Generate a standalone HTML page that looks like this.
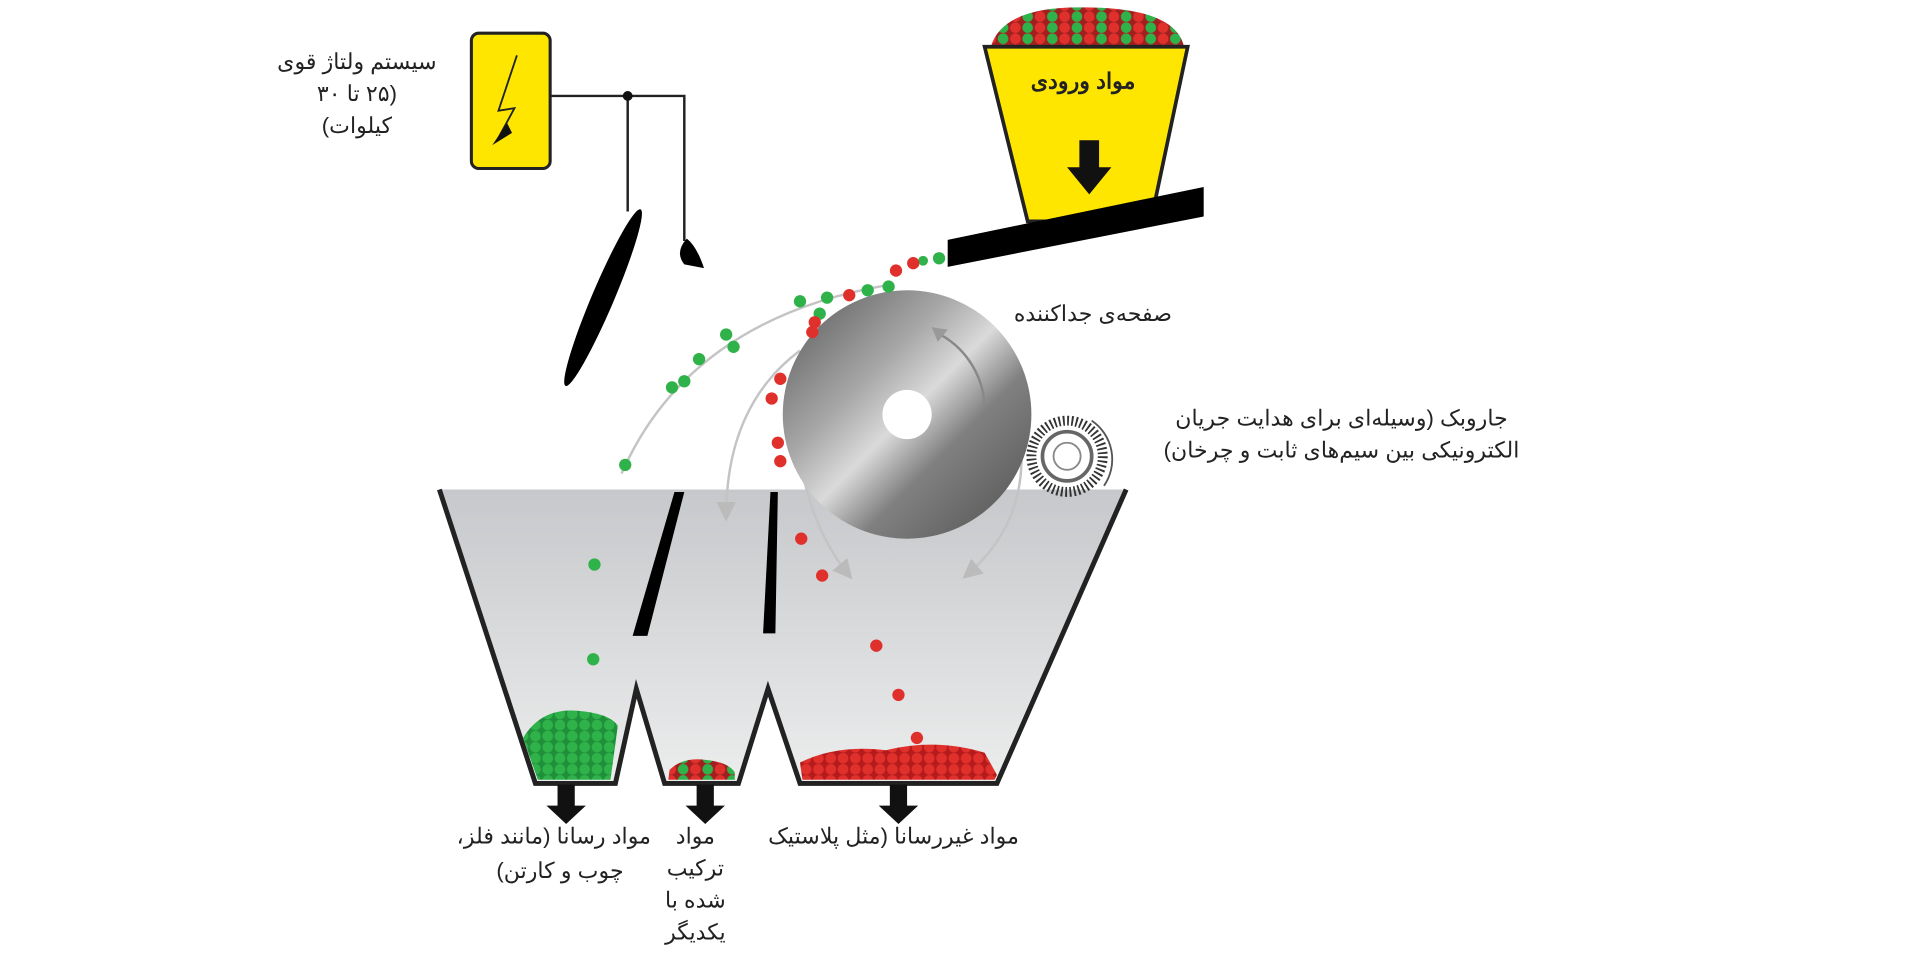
<!DOCTYPE html>
<html><head><meta charset="utf-8"><style>
html,body{margin:0;padding:0;background:#fff;width:1920px;height:963px;overflow:hidden}
svg{display:block}
text{font-family:"Liberation Sans","Noto Sans CJK SC",sans-serif;fill:#222;font-size:18px;direction:rtl;unicode-bidi:embed}
</style></head><body>
<svg width="1920" height="963" viewBox="0 0 1560 783" preserveAspectRatio="none" xmlns="http://www.w3.org/2000/svg">
<defs>
<linearGradient id="bin" x1="0" y1="0" x2="0" y2="1"><stop offset="0" stop-color="#c6c8cb"/><stop offset="1" stop-color="#eceded"/></linearGradient>
<linearGradient id="disc" x1="0" y1="0" x2="1" y2="1"><stop offset="0" stop-color="#555"/><stop offset="0.35" stop-color="#a8a8a8"/><stop offset="0.5" stop-color="#dadada"/><stop offset="0.65" stop-color="#808080"/><stop offset="1" stop-color="#505050"/></linearGradient>
<pattern id="green" width="10" height="9" patternUnits="userSpaceOnUse"><rect width="10" height="9" fill="#1f8f3a"/><circle cx="5" cy="4.5" r="4.3" fill="#2fb24a"/></pattern>
<pattern id="red" width="10" height="9" patternUnits="userSpaceOnUse"><rect width="10" height="9" fill="#b51b1b"/><circle cx="5" cy="4.5" r="4.3" fill="#e0302c"/></pattern>
<pattern id="mix" width="20" height="9" patternUnits="userSpaceOnUse"><rect width="20" height="9" fill="#a02020"/><circle cx="5" cy="4.5" r="4.3" fill="#e0302c"/><circle cx="15" cy="4.5" r="4.3" fill="#2fb24a"/></pattern>
<marker id="ah" markerWidth="8" markerHeight="8" refX="6" refY="4" orient="auto"><path d="M0,0 L8,4 L0,8 Z" fill="#bbb"/></marker>
</defs>

<!-- bin -->
<polygon points="357,398 915,398 810,637 650,637 624,560 600,637 540,637 517,560 500,637 435,637" fill="url(#bin)"/>
<polyline points="357,398 435,637 500,637 517,560 540,637 600,637 624,560 650,637 810,637 915,398" fill="none" stroke="#222" stroke-width="4"/>
<polygon points="548,400 556,400 526,517 514,517" fill="#000"/>
<polygon points="626,400 632,400 630,515 620,515" fill="#000"/>
<!-- piles -->
<path d="M425,600 Q440,575 470,578 Q495,580 502,590 L496,634 L437,634 Z" fill="url(#green)"/>
<path d="M544,626 Q555,615 575,618 Q592,620 597,628 L597,634 L543,634 Z" fill="url(#mix)"/>
<path d="M650,620 Q680,605 720,610 Q760,600 800,612 L810,630 L808,634 L652,634 Z" fill="url(#red)"/>

<!-- output arrows -->
<g fill="#111">
<polygon points="453,638 467,638 467,655 476,655 460,670 444,655 453,655"/>
<polygon points="566,638 580,638 580,655 589,655 573,670 557,655 566,655"/>
<polygon points="723,638 737,638 737,655 746,655 730,670 714,655 723,655"/>
</g>

<!-- flight curves -->
<g fill="none" stroke="#c4c4c4" stroke-width="2">
<path d="M720,232 Q560,260 505,385"/>
<path d="M650,285 Q590,330 590,420" marker-end="url(#ah)"/>
<path d="M645,330 Q650,420 690,468" marker-end="url(#ah)"/>
<path d="M830,372 Q830,430 785,468" marker-end="url(#ah)"/>
</g>

<!-- disc -->
<circle cx="737" cy="337" r="101" fill="url(#disc)"/>
<circle cx="737" cy="337" r="20" fill="#fff"/>
<path d="M760,270 A70,70 0 0 1 800,330" fill="none" stroke="#888" stroke-width="2"/>
<polygon points="757,266 770,268 762,278" fill="#999"/>

<!-- brush -->
<circle cx="867" cy="371" r="29" fill="none" stroke="#333" stroke-width="8" stroke-dasharray="1.5 2"/>
<circle cx="867" cy="371" r="20" fill="#fff" stroke="#666" stroke-width="3"/>
<circle cx="867" cy="371" r="11" fill="#fff" stroke="#888" stroke-width="1.5"/>
<path d="M887,342 A38,38 0 0 1 897,395" fill="none" stroke="#555" stroke-width="1.5"/>

<!-- hopper -->
<path d="M805,38 Q815,5 880,6 Q955,6 962,38 Z" fill="url(#mix)"/>
<polygon points="800,38 965,38 935,180 835,180" fill="#ffe600" stroke="#222" stroke-width="3"/>
<text x="880" y="72" text-anchor="middle" font-weight="bold" font-size="17">مواد ورودی</text>
<polygon points="877,114 893,114 893,136 903,136 885,158 867,136 877,136" fill="#111"/>
<!-- chute -->
<polygon points="770,195 978,152 978,176 770,217" fill="#000"/>

<!-- falling balls -->
<g fill="#2fb24a">
<circle cx="763" cy="210" r="5"/><circle cx="750" cy="212" r="4"/><circle cx="722" cy="233" r="5"/><circle cx="705" cy="236" r="5"/><circle cx="672" cy="242" r="5"/><circle cx="650" cy="245" r="5"/><circle cx="666" cy="255" r="5"/><circle cx="590" cy="272" r="5"/><circle cx="596" cy="282" r="5"/><circle cx="568" cy="292" r="5"/><circle cx="556" cy="310" r="5"/><circle cx="546" cy="315" r="5"/><circle cx="508" cy="378" r="5"/><circle cx="483" cy="459" r="5"/><circle cx="482" cy="536" r="5"/>
</g>
<g fill="#e0302c">
<circle cx="742" cy="214" r="5"/><circle cx="728" cy="220" r="5"/><circle cx="690" cy="240" r="5"/><circle cx="662" cy="262" r="5"/><circle cx="660" cy="270" r="5"/><circle cx="634" cy="308" r="5"/><circle cx="627" cy="324" r="5"/><circle cx="632" cy="360" r="5"/><circle cx="634" cy="375" r="5"/><circle cx="651" cy="438" r="5"/><circle cx="668" cy="468" r="5"/><circle cx="712" cy="525" r="5"/><circle cx="730" cy="565" r="5"/><circle cx="745" cy="600" r="5"/>
</g>

<!-- HV box and wires -->
<rect x="383" y="27" width="64" height="110" rx="6" fill="#ffe600" stroke="#222" stroke-width="2.5"/>
<path d="M420,45 L405,90 L418,88 L405,112" fill="none" stroke="#222" stroke-width="1.5"/>
<polygon points="400,118 412,100 416,108" fill="#111"/>
<polyline points="447,78 556,78 556,196" fill="none" stroke="#222" stroke-width="2"/>
<line x1="510" y1="78" x2="510" y2="172" stroke="#222" stroke-width="2"/>
<circle cx="510" cy="78" r="4" fill="#111"/>
<ellipse cx="490" cy="242" rx="9" ry="78" transform="rotate(23 490 242)" fill="#000"/>
<path d="M558,194 Q548,205 556,215 L572,218 Q566,200 558,194 Z" fill="#000"/>

<!-- labels -->
<text x="290" y="56" text-anchor="middle">سیستم ولتاژ قوی</text>
<text x="290" y="82" text-anchor="middle">(۲۵ تا ۳۰</text>
<text x="290" y="108" text-anchor="middle">کیلوات)</text>
<text x="888" y="261" text-anchor="middle">صفحه‌ی جداکننده</text>
<text x="1090" y="346" text-anchor="middle">جاروبک (وسیله‌ای برای هدایت جریان</text>
<text x="1090" y="372" text-anchor="middle">الکترونیکی بین سیم‌های ثابت و چرخان)</text>
<text x="450" y="686" text-anchor="middle">مواد رسانا (مانند فلز،</text>
<text x="455" y="714" text-anchor="middle">چوب و کارتن)</text>
<text x="565" y="686" text-anchor="middle">مواد</text>
<text x="565" y="712" text-anchor="middle">ترکیب</text>
<text x="565" y="738" text-anchor="middle">شده با</text>
<text x="565" y="764" text-anchor="middle">یکدیگر</text>
<text x="726" y="686" text-anchor="middle">مواد غیررسانا (مثل پلاستیک</text>
</svg>
</body></html>
